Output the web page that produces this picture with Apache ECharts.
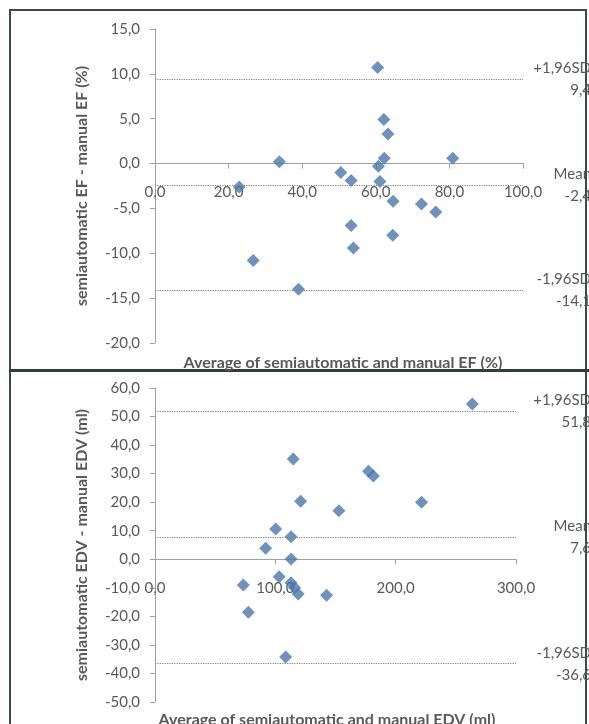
<!DOCTYPE html>
<html>
<head>
<meta charset="utf-8">
<script src="https://cdn.jsdelivr.net/npm/echarts@6/dist/echarts.min.js"></script>
<style>
  html, body { margin: 0; padding: 0; background: #fff; }
  #frame { position: absolute; left: 9px; top: 9px; width: 578px; height: 740px;
           border: 2px solid #3b4a4a; border-bottom: none; box-sizing: border-box; }
  #divider { position: absolute; left: 9px; top: 369px; width: 580px; height: 3px; background: #2f3d3d; }
  #main { position: absolute; left: 0; top: 0; width: 589px; height: 724px; }
</style>
</head>
<body>
<div id="frame"></div>
<div id="divider"></div>
<div id="main"></div>
<script>
// EF panel: [average, difference]
const efPoints = [
  [22.9, -2.6], [33.8, 0.2], [26.7, -10.8], [39.0, -14.0], [60.5, 10.7],
  [62.2, 4.9], [63.3, 3.3], [62.3, 0.6], [60.7, -0.3], [80.9, 0.6],
  [50.5, -1.0], [53.3, -1.9], [61.1, -2.0], [64.7, -4.2], [72.4, -4.5],
  [76.3, -5.4], [53.3, -6.9], [64.6, -8.0], [53.9, -9.4]
];
const efLimits = [
  { name: '+1,96SD', value: 9.4 },
  { name: 'Mean', value: -2.4 },
  { name: '-1,96SD', value: -14.1 }
];

// EDV panel: [average, difference]
const edvPoints = [
  [263.7, 54.4], [114.9, 35.1], [177.5, 30.8], [181.5, 29.2], [121.0, 20.3],
  [221.5, 20.0], [152.8, 17.0], [100.3, 10.6], [113.1, 7.9], [92.0, 3.9],
  [113.1, 0.1], [103.2, -6.1], [113.0, -8.2], [116.0, -10.0], [119.0, -12.2],
  [73.4, -9.0], [142.6, -12.6], [77.6, -18.6], [108.6, -34.2]
];
const edvLimits = [
  { name: '+1,96SD', value: 51.8 },
  { name: 'Mean', value: 7.6 },
  { name: '-1,96SD', value: -36.6 }
];

const font = 'Lato, "Open Sans", sans-serif';
const gray = '#595959';
const axisGray = '#a0a0a0';
const gridH = 314;
const comma = v => v.toFixed(1).replace('.', ',');

function limitLines(limits, dist) {
  return {
    silent: true,
    symbol: 'none',
    lineStyle: { type: 'dotted', color: '#7f7f7f', width: 1.2 },
    label: {
      position: 'end',
      distance: dist,
      align: 'right',
      verticalAlign: 'middle',
      color: gray,
      fontFamily: font,
      fontSize: 15,
      lineHeight: 22,
      formatter: p => p.name + '\n' + comma(p.value)
    },
    data: limits.map(l => ({ name: l.name, yAxis: l.value }))
  };
}

// axis line + ticks, sitting on y = 0
function xLineAxis(idx, max, interval) {
  return {
    type: 'value', gridIndex: idx, min: 0, max: max, interval: interval,
    position: 'bottom',
    splitLine: { show: false },
    axisLine: { show: true, onZero: true, lineStyle: { color: axisGray } },
    axisTick: { show: true, inside: false, length: 5, lineStyle: { color: axisGray } },
    axisLabel: { show: false }
  };
}

// tick labels only, shifted up so they sit under the zero line
function xLabelAxis(idx, max, interval, yMin, yMax) {
  return {
    type: 'value', gridIndex: idx, min: 0, max: max, interval: interval,
    position: 'bottom',
    offset: -gridH * (0 - yMin) / (yMax - yMin),
    splitLine: { show: false },
    axisLine: { show: false, onZero: false },
    axisTick: { show: false },
    axisLabel: { margin: 21, color: gray, fontFamily: font, fontSize: 15, formatter: comma }
  };
}

function yAxisOf(idx, min, max, interval, name) {
  return {
    type: 'value', gridIndex: idx, min: min, max: max, interval: interval,
    name: name, nameLocation: 'middle', nameRotate: 90, nameGap: 65,
    nameTextStyle: { color: gray, fontFamily: font, fontSize: 16, fontWeight: 'bold' },
    splitLine: { show: false },
    axisLine: { show: true, lineStyle: { color: axisGray } },
    axisTick: { show: true, length: 5, lineStyle: { color: axisGray } },
    axisLabel: { margin: 15, color: gray, fontFamily: font, fontSize: 15, formatter: comma }
  };
}

const chart = echarts.init(document.getElementById('main'));
chart.setOption({
  animation: false,
  title: [
    {
      text: 'Average of semiautomatic and manual EF (%)',
      left: 338, top: 350, textAlign: 'center',
      textStyle: { color: gray, fontFamily: font, fontSize: 16, fontWeight: 'bold' }
    },
    {
      text: 'Average of semiautomatic and manual EDV (ml)',
      left: 322, top: 707, textAlign: 'center',
      textStyle: { color: gray, fontFamily: font, fontSize: 16, fontWeight: 'bold' }
    }
  ],
  grid: [
    { left: 155, right: 66, top: 29, height: gridH },
    { left: 155, right: 73, top: 388, height: gridH }
  ],
  xAxis: [
    xLineAxis(0, 100, 20),
    xLineAxis(1, 300, 100),
    xLabelAxis(0, 100, 20, -20, 15),
    xLabelAxis(1, 300, 100, -50, 60)
  ],
  yAxis: [
    yAxisOf(0, -20, 15, 5, 'semiautomatic EF - manual EF (%)'),
    yAxisOf(1, -50, 60, 10, 'semiautomatic EDV - manual EDV (ml)')
  ],
  series: [
    {
      type: 'scatter', xAxisIndex: 0, yAxisIndex: 0,
      symbol: 'diamond', symbolSize: 13,
      itemStyle: { color: '#4a77aa' },
      data: efPoints,
      markLine: limitLines(efLimits, 68)
    },
    {
      type: 'scatter', xAxisIndex: 1, yAxisIndex: 1,
      symbol: 'diamond', symbolSize: 13,
      itemStyle: { color: '#4a77aa' },
      data: edvPoints,
      markLine: limitLines(edvLimits, 75)
    }
  ]
});
</script>
</body>
</html>
